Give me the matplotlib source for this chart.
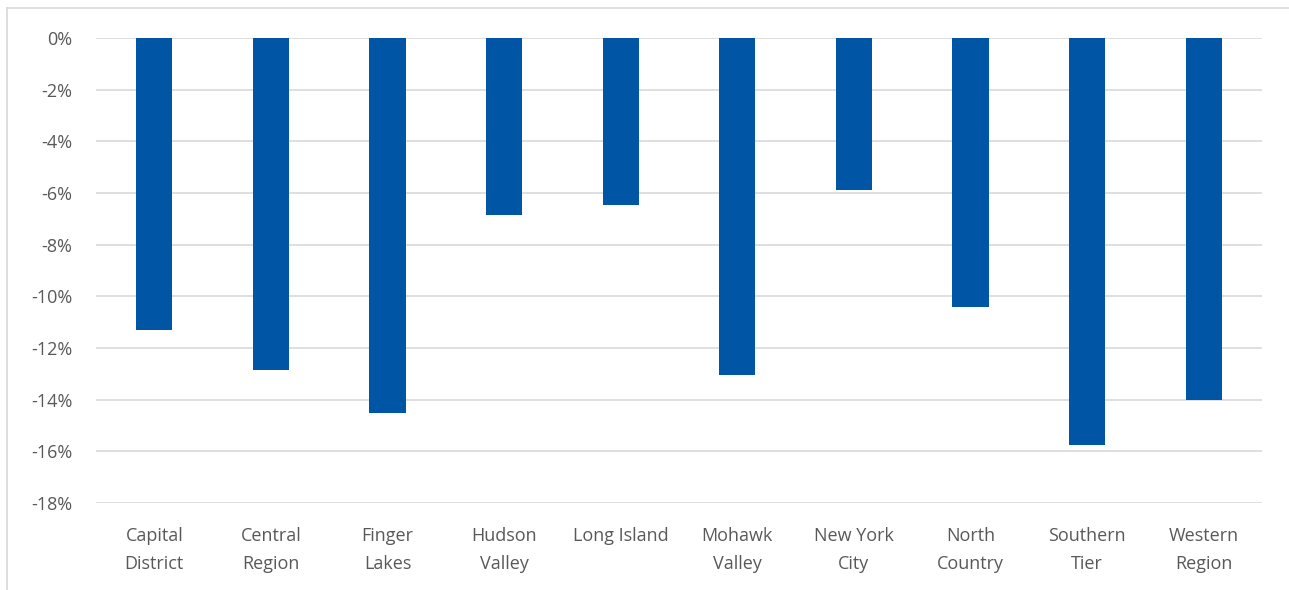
import matplotlib
matplotlib.use("Agg")
import matplotlib.pyplot as plt
from matplotlib.lines import Line2D

# Data
regions = ["Capital\nDistrict", "Central\nRegion", "Finger\nLakes", "Hudson\nValley",
           "Long Island", "Mohawk\nValley", "New York\nCity", "North\nCountry",
           "Southern\nTier", "Western\nRegion"]
change = [-11.3, -12.85, -14.5, -6.85, -6.45, -13.05, -5.9, -10.4, -15.75, -14.0]
yticks = list(range(0, -19, -2))

plt.rcParams['font.family'] = ['Open Sans', 'DejaVu Sans']
txt = "#595959"

fig = plt.figure(figsize=(12.89, 5.90), dpi=100)
ax = fig.add_axes([96 / 1289, 1 - 503 / 590, 1166 / 1289, 465 / 590])

x = range(len(regions))
ax.bar(x, change, width=0.31, color="#0055A5", zorder=3)

ax.set_xlim(-0.5, len(regions) - 0.5)
ax.set_ylim(-18, 0)
ax.set_yticks(yticks)
ax.set_yticklabels([f"{t}%" for t in yticks])
ax.set_xticks(list(x))
ax.set_xticklabels(regions)
for lab in ax.get_xticklabels():
    lab.set_linespacing(1.75)
ax.tick_params(axis="both", length=0, labelsize=13, colors=txt)
ax.tick_params(axis="y", pad=17)
ax.tick_params(axis="x", pad=17)
ax.grid(axis="y", color="#d9d9d9", linewidth=1.2, zorder=0)
for s in ax.spines.values():
    s.set_visible(False)

# chart outer border (left and top)
fig.add_artist(Line2D([7 / 1289, 7 / 1289], [0, 1 - 8 / 590], transform=fig.transFigure,
                      color="#d9d9d9", linewidth=1.2))
fig.add_artist(Line2D([7 / 1289, 1], [1 - 8 / 590, 1 - 8 / 590], transform=fig.transFigure,
                      color="#d9d9d9", linewidth=1.2))

fig.savefig("out.png", dpi=100)
